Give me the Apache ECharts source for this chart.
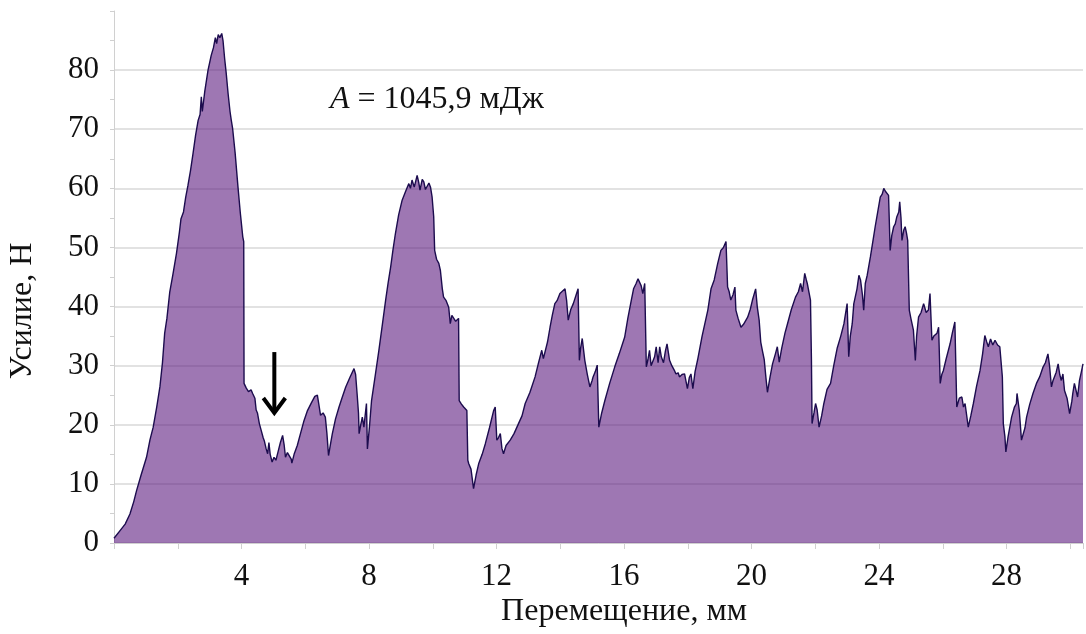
<!DOCTYPE html>
<html>
<head>
<meta charset="utf-8">
<script src="https://cdn.jsdelivr.net/npm/echarts@6/dist/echarts.min.js"></script>
<style>
html,body{margin:0;padding:0;background:#fff;}
#chart{width:1086px;height:634px;}
</style>
</head>
<body>
<div id="chart"></div>
<script>
// Displacement, mm
const disp = [0.00,0.03,0.19,0.35,0.50,0.62,0.71,0.85,1.02,1.13,1.23,1.34,1.44,1.52,1.59,1.66,1.75,1.85,1.96,2.05,2.10,2.18,2.25,2.32,2.40,2.48,2.56,2.64,2.70,2.74,2.77,2.85,2.95,3.05,3.12,3.18,3.22,3.27,3.32,3.38,3.42,3.47,3.52,3.58,3.64,3.68,3.72,3.80,3.89,3.96,4.04,4.07,4.08,4.15,4.22,4.30,4.35,4.42,4.46,4.50,4.56,4.62,4.68,4.72,4.77,4.82,4.86,4.90,4.96,5.02,5.08,5.15,5.22,5.29,5.34,5.38,5.44,5.50,5.56,5.58,5.65,5.75,5.85,5.95,6.07,6.20,6.30,6.38,6.44,6.48,6.56,6.63,6.68,6.73,6.80,6.85,6.95,7.06,7.15,7.27,7.40,7.53,7.58,7.63,7.67,7.69,7.74,7.79,7.84,7.92,7.95,8.02,8.08,8.20,8.31,8.42,8.52,8.60,8.68,8.75,8.83,8.93,9.04,9.15,9.25,9.30,9.35,9.42,9.51,9.56,9.60,9.67,9.72,9.77,9.82,9.88,9.93,9.98,10.03,10.06,10.12,10.19,10.24,10.30,10.34,10.42,10.50,10.55,10.60,10.66,10.72,10.81,10.83,10.90,10.97,11.07,11.10,11.13,11.20,11.23,11.28,11.36,11.44,11.55,11.65,11.78,11.91,11.96,12.01,12.06,12.12,12.17,12.22,12.30,12.43,12.55,12.69,12.80,12.90,13.05,13.21,13.31,13.42,13.47,13.52,13.60,13.68,13.75,13.83,13.90,13.99,14.05,14.15,14.20,14.25,14.33,14.41,14.50,14.56,14.60,14.64,14.69,14.77,14.85,14.93,15.00,15.03,15.10,15.16,15.21,15.30,15.40,15.55,15.71,15.85,16.02,16.12,16.23,16.30,16.38,16.44,16.49,16.54,16.59,16.65,16.70,16.75,16.80,16.85,16.91,16.96,17.01,17.07,17.12,17.17,17.24,17.30,17.35,17.43,17.50,17.58,17.63,17.70,17.74,17.82,17.90,17.99,18.05,18.10,18.16,18.23,18.31,18.45,18.63,18.73,18.83,18.94,19.04,19.12,19.20,19.25,19.30,19.35,19.42,19.48,19.51,19.58,19.67,19.75,19.88,19.96,20.03,20.13,20.18,20.24,20.29,20.34,20.40,20.45,20.50,20.58,20.66,20.75,20.81,20.87,20.95,21.05,21.13,21.25,21.38,21.47,21.54,21.60,21.67,21.72,21.75,21.85,21.88,21.90,21.96,22.01,22.06,22.12,22.20,22.27,22.37,22.48,22.58,22.69,22.80,22.90,23.00,23.05,23.10,23.16,23.21,23.31,23.37,23.42,23.48,23.52,23.57,23.63,23.73,23.83,23.88,23.96,24.04,24.10,24.15,24.20,24.25,24.30,24.35,24.40,24.46,24.51,24.56,24.62,24.65,24.69,24.72,24.78,24.82,24.86,24.90,24.95,25.00,25.08,25.14,25.18,25.24,25.32,25.40,25.48,25.55,25.60,25.66,25.72,25.76,25.82,25.87,25.92,25.97,26.02,26.10,26.23,26.30,26.38,26.44,26.52,26.60,26.65,26.70,26.80,26.88,26.96,27.06,27.17,27.25,27.32,27.38,27.43,27.50,27.57,27.64,27.72,27.79,27.84,27.87,27.90,27.95,27.98,28.05,28.16,28.25,28.31,28.33,28.40,28.47,28.50,28.58,28.63,28.73,28.83,28.94,29.04,29.15,29.22,29.30,29.35,29.41,29.46,29.56,29.62,29.67,29.72,29.77,29.82,29.90,29.98,30.05,30.08,30.13,30.19,30.23,30.29,30.35,30.40];
// Force, N
const force = [0.8,1.1,2.1,3.2,4.9,7.0,8.9,11.5,14.5,17.5,19.6,23.0,26.4,30.5,35.5,38.0,42.5,45.5,49.0,52.5,54.8,56.0,58.5,60.5,63.0,65.9,69.0,71.5,72.5,75.5,73.0,76.5,80.0,82.5,83.8,85.5,84.5,86.0,85.5,86.2,85.0,82.0,79.5,76.0,73.0,71.5,70.2,66.0,60.2,56.0,51.8,51.0,27.0,26.2,25.6,25.9,25.3,24.5,22.5,22.0,20.2,19.0,17.8,17.2,16.0,15.1,17.0,15.0,13.7,14.5,14.0,15.5,17.0,18.2,16.5,14.5,15.3,15.0,14.2,13.5,15.0,16.5,18.5,20.5,22.4,23.8,24.8,25.0,23.0,21.6,22.0,21.3,18.5,14.8,17.0,18.5,21.0,23.0,24.5,26.4,28.0,29.5,28.5,25.0,22.0,18.5,20.0,21.3,19.6,23.6,15.9,20.0,24.1,28.5,32.6,37.0,41.0,44.0,46.7,49.5,52.4,55.5,58.0,59.5,60.8,60.0,61.4,60.2,62.2,61.0,59.7,61.5,61.1,59.8,59.7,60.9,60.2,58.5,55.2,49.5,48.0,47.3,46.1,43.0,41.6,41.0,39.9,37.1,38.5,38.5,37.5,38.0,24.1,23.5,23.0,22.4,14.0,13.4,12.5,12.8,9.2,11.5,13.4,15.0,16.8,19.5,22.4,23.0,17.4,17.8,18.5,16.0,15.1,16.5,17.4,18.5,20.2,21.5,23.6,25.5,28.1,30.3,32.6,31.2,31.5,34.0,36.5,38.5,40.5,41.0,42.2,42.5,43.0,41.0,37.7,39.5,40.5,42.0,43.0,30.9,33.0,34.6,30.9,28.5,26.4,27.5,28.1,29.0,30.1,19.6,22.0,24.1,27.0,29.8,32.0,34.8,38.0,41.1,43.0,43.9,44.7,45.0,43.5,42.2,43.9,29.8,31.0,32.6,30.0,30.3,31.5,33.2,30.5,33.2,31.5,30.5,32.5,33.7,30.9,30.0,29.2,28.6,28.8,28.1,28.5,28.6,26.1,28.0,28.6,26.1,29.0,31.0,35.0,39.4,43.0,44.5,47.3,49.5,50.0,51.0,43.3,42.5,41.1,42.0,43.3,39.4,38.0,36.5,37.0,38.2,39.5,41.1,43.0,40.0,37.7,34.0,32.6,31.0,28.1,25.5,28.0,30.3,32.0,33.2,30.6,33.0,35.5,37.1,39.5,41.6,42.5,43.9,42.5,45.6,44.5,43.9,41.1,31.2,20.2,22.0,23.6,22.5,19.6,21.5,23.6,26.0,27.0,30.0,33.0,35.0,37.1,40.5,31.5,35.0,37.1,40.5,43.0,45.3,44.5,42.0,39.4,43.9,45.3,48.4,51.8,53.5,56.0,58.5,59.0,60.0,59.5,59.8,58.8,49.5,52.0,53.5,54.0,55.2,56.0,57.7,55.0,51.2,53.0,53.5,52.5,51.2,39.4,38.0,36.0,30.9,35.0,38.2,39.0,40.5,39.0,39.4,42.2,34.3,35.0,34.8,35.5,36.5,27.0,28.5,29.2,31.0,33.7,35.5,37.4,23.0,24.5,24.7,23.0,23.6,19.6,21.5,23.6,26.5,29.2,32.0,35.1,34.0,33.2,34.5,33.5,34.3,33.5,33.2,33.5,28.1,20.2,18.0,15.4,18.0,21.3,23.0,23.6,25.3,22.5,17.4,17.1,19.5,21.3,23.5,25.3,27.0,28.1,29.8,30.5,32.0,30.0,26.4,27.5,28.9,30.3,28.5,27.5,28.6,25.8,24.5,21.9,24.0,25.3,27.0,27.0,24.7,27.5,29.0,30.3];

const xTickLabels = [4, 8, 12, 16, 20, 24, 28];
const yTickLabels = [0, 10, 20, 30, 40, 50, 60, 70, 80];
const xTitle = 'Перемещение, мм';
const yTitle = 'Усилие, Н';
const energyLabel = ['A', ' = 1045,9 мДж'];
const arrowFrom = [5.03, 32.3];
const arrowTo = [5.03, 22.0];

const seriesData = disp.map((x, i) => [x, force[i]]);
const FONT = 'Liberation Serif';

const chart = echarts.init(document.getElementById('chart'), null, {renderer: 'canvas'});
chart.setOption({
  animation: false,
  backgroundColor: '#ffffff',
  grid: {left: 114, right: 0, top: 11, bottom: 91, containLabel: false},
  xAxis: {
    type: 'value', min: 0, max: 30.4, interval: 4,
    axisLine: {show: true, lineStyle: {color: '#d0d0d0', width: 1}},
    axisTick: {show: true, length: 6, lineStyle: {color: '#d0d0d0'}},
    minorTick: {show: true, splitNumber: 2, length: 6, lineStyle: {color: '#d0d0d0'}},
    splitLine: {show: false},
    axisLabel: {
      margin: 18, fontFamily: FONT, fontSize: 31, color: '#111',
      formatter: v => (xTickLabels.indexOf(v) >= 0 ? String(v) : '')
    }
  },
  yAxis: {
    type: 'value', min: 0, max: 90, interval: 10,
    axisLine: {show: true, lineStyle: {color: '#d0d0d0', width: 1}},
    axisTick: {show: true, length: 4, lineStyle: {color: '#d0d0d0'}},
    minorTick: {show: true, splitNumber: 2, length: 4, lineStyle: {color: '#d0d0d0'}},
    splitLine: {show: true, showMaxLine: false, lineStyle: {color: '#d9d9d9', width: 1.5}},
    axisLabel: {
      margin: 15, fontFamily: FONT, fontSize: 31, color: '#111',
      formatter: v => (yTickLabels.indexOf(v) >= 0 ? String(v) : '')
    }
  },
  series: [{
    type: 'line',
    data: seriesData,
    symbol: 'none',
    smooth: false,
    lineStyle: {color: '#1c0c4e', width: 1.4},
    areaStyle: {color: '#5e1c80', opacity: 0.6, origin: 'start'},
    z: 3
  }]
});

const p0 = chart.convertToPixel({gridIndex: 0}, arrowFrom);
const p1 = chart.convertToPixel({gridIndex: 0}, arrowTo);
const headW = 11, headH = 15;

chart.setOption({
  graphic: [
    {
      type: 'text', left: 330, top: 84, z: 10,
      style: {
        text: '{i|' + energyLabel[0] + '}{n|' + energyLabel[1] + '}',
        rich: {
          i: {fontFamily: FONT, fontSize: 32, fontStyle: 'italic', fill: '#111'},
          n: {fontFamily: FONT, fontSize: 32, fill: '#111'}
        }
      }
    },
    {
      type: 'text', z: 10,
      x: 624, y: 612,
      style: {text: xTitle, fontFamily: FONT, fontSize: 32, fill: '#111', align: 'center', verticalAlign: 'middle'}
    },
    {
      type: 'text', z: 10,
      x: 23, y: 311, rotation: Math.PI / 2,
      style: {text: yTitle, fontFamily: FONT, fontSize: 32, fill: '#111', align: 'center', verticalAlign: 'middle'}
    },
    {
      type: 'line', z: 10,
      shape: {x1: p0[0], y1: p0[1], x2: p1[0], y2: p1[1] - 2},
      style: {stroke: '#000', lineWidth: 4}
    },
    {
      type: 'polyline', z: 10,
      shape: {points: [[p1[0] - headW, p1[1] - headH], [p1[0], p1[1]], [p1[0] + headW, p1[1] - headH]]},
      style: {stroke: '#000', lineWidth: 4, fill: null, lineJoin: 'miter'}
    }
  ]
});
</script>
</body>
</html>
